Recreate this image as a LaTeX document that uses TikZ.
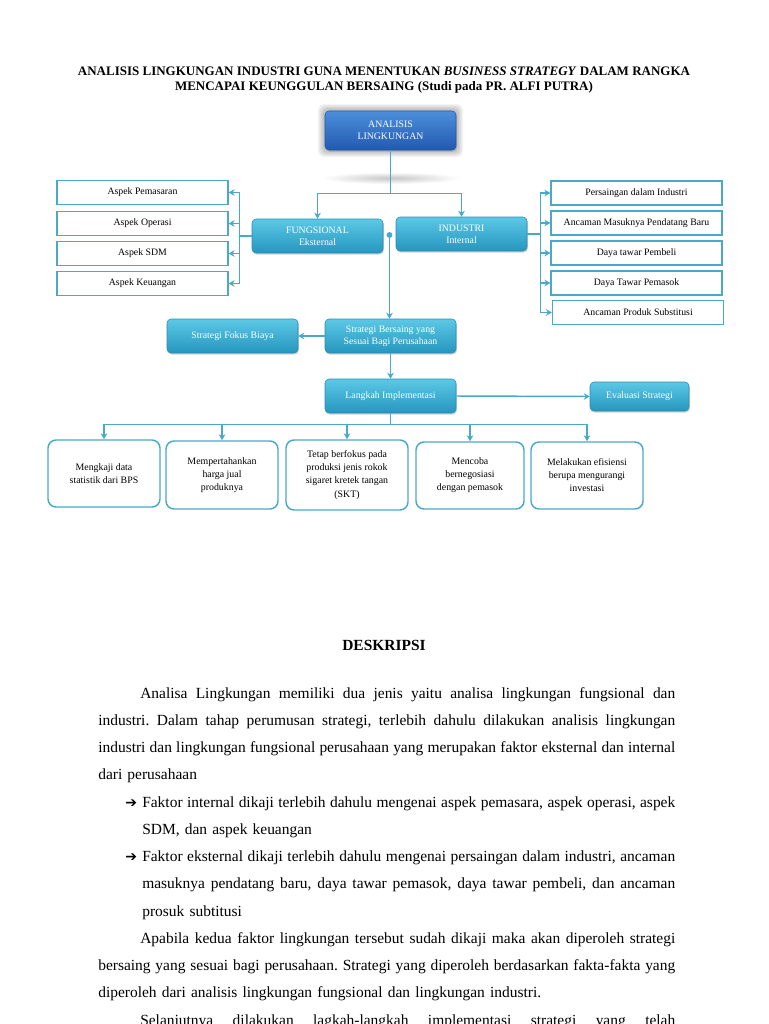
\documentclass[tikz,border=0pt]{standalone}
\usepackage{fontspec}
\setmainfont{Liberation Serif}
\newfontfamily\symfont{DejaVu Sans}
\usetikzlibrary{arrows.meta,shadows,calc}

\definecolor{linkc}{HTML}{4AA9C8}
\definecolor{boxtop}{HTML}{5CC8E6}
\definecolor{boxbot}{HTML}{2596BE}
\definecolor{boxedge}{HTML}{2B8DB2}
\definecolor{headtop}{HTML}{4D8FDC}
\definecolor{headbot}{HTML}{2259B0}

% one justified line of the description
\newcommand{\fillline}[2][432.75pt]{{\spaceskip=0pt\xspaceskip=0pt\makebox[#1][s]{#2}}}
\newcommand{\bulletarrow}{\makebox[12.75pt][l]{\symfont\bfseries\fontsize{10.5}{10.5}\selectfont ➔}}

\begin{document}
\begin{tikzpicture}[x=0.75pt, y=-0.75pt, > = {Stealth[length=4.5pt,width=5pt]},
    link/.style = {draw=linkc, line width=1.1pt},
    bluebox/.style = {rounded corners=3pt, draw=boxedge, line width=0.4pt, top color=boxtop, bottom color=boxbot,
        text=white, align=center, inner sep=1pt, minimum width=98.25pt, minimum height=25.5pt,
        font=\fontsize{7.35}{8.8}\selectfont, drop shadow={shadow xshift=0.6pt, shadow yshift=-1.2pt, opacity=0.35}},
    headbox/.style = {bluebox, draw=headbot, top color=headtop, bottom color=headbot, minimum height=29.25pt},
    aspbox/.style = {draw=linkc, line width=0.9pt, fill=white, inner sep=1pt, minimum width=128.25pt, minimum height=18pt,
        font=\fontsize{7.35}{8.8}\selectfont},
    stepbox/.style = {draw=linkc, line width=1.1pt, fill=white, rounded corners=6pt, align=center, inner sep=1pt,
        minimum height=50.25pt, font=\fontsize{7.4}{9.8}\selectfont},
    body/.style = {text width=432.75pt, align=left, inner sep=0pt, font=\fontsize{11.6}{20.45}\selectfont\frenchspacing}]

    \useasboundingbox (0,0) rectangle (768,1024);

    % title
    \node[align=center, font=\fontsize{9.75}{11.25}\selectfont\bfseries] (ttl) at (384,80)
        {ANALISIS LINGKUNGAN INDUSTRI GUNA MENENTUKAN \textit{BUSINESS STRATEGY} DALAM RANGKA\\
         MENCAPAI KEUNGGULAN BERSAING (Studi pada PR. ALFI PUTRA)};

    % glow and reflection of the top box
    \foreach \g in {1,...,7}
        \fill[black, opacity=0.045, rounded corners=4pt] (325-\g,111-\g) rectangle (456+\g,150+\g);
    \shade[inner color=black!22, outer color=white] (391,178) ellipse (52pt and 4.5pt);

    % boxes
    \node[headbox] (ana) at (390.5,130.5) {ANALISIS\\LINGKUNGAN};
    \node[bluebox] (fung) at (317.5,236) {FUNGSIONAL\\Eksternal};
    \node[bluebox] (ind) at (461.5,234) {INDUSTRI\\Internal};

    \node[aspbox] (a1) at (142.5,192.5) {Aspek Pemasaran};
    \node[aspbox] (a2) at (142.5,223.5) {Aspek Operasi};
    \node[aspbox] (a3) at (142.5,253.5) {Aspek SDM};
    \node[aspbox] (a4) at (142.5,283.5) {Aspek Keuangan};

    \node[aspbox] (b1) at (636.5,193) {Persaingan dalam Industri};
    \node[aspbox] (b2) at (636.5,223) {Ancaman Masuknya Pendatang Baru};
    \node[aspbox] (b3) at (636.5,253) {Daya tawar Pembeli};
    \node[aspbox] (b4) at (636.5,283) {Daya Tawar Pemasok};
    \node[aspbox] (b5) at (638,312.5) {Ancaman Produk Substitusi};

    \node[bluebox] (sb) at (390.5,336) {Strategi Bersaing yang\\Sesuai Bagi Perusahaan};
    \node[bluebox] (sf) at (232.5,336) {Strategi Fokus Biaya};
    \node[bluebox] (li) at (390.5,396) {Langkah Implementasi};
    \node[bluebox, minimum width=74.25pt, minimum height=21.75pt] (ev) at (639.5,396.5) {Evaluasi Strategi};

    \node[stepbox, minimum width=84pt] (s1) at (104,473.5) {Mengkaji data\\statistik dari BPS};
    \node[stepbox, minimum width=84pt, minimum height=51pt] (s2) at (222,475) {Mempertahankan\\harga jual\\produknya};
    \node[stepbox, minimum width=91.5pt, minimum height=52.5pt] (s3) at (347,475) {Tetap berfokus pada\\produksi jenis rokok\\sigaret kretek tangan\\(SKT)};
    \node[stepbox, minimum width=81pt] (s4) at (470,475.5) {Mencoba\\bernegosiasi\\dengan pemasok};
    \node[stepbox, minimum width=84pt] (s5) at (587,475.5) {Melakukan efisiensi\\berupa mengurangi\\investasi};

    % connectors
    \draw[link] (ana.south) -- ++(0,43) coordinate (top);
    \draw[link, ->] (top) -| (fung.north);
    \draw[link, ->] (top) -| (ind.north);

    \foreach \n in {a1,a2,a3,a4}
        \draw[link, ->] (fung.west) -- ++(-12,0) |- (\n.east);
    \foreach \n in {b1,b2,b3,b4,b5}
        \draw[link, ->] (ind.east) -- ++(13,0) |- (\n.west);

    \coordinate (mid) at ($(fung.east)!0.5!(ind.west)$);
    \fill[linkc] (mid) circle (2.2pt);
    \draw[link, ->] (mid) -- (mid |- sb.north);

    \draw[link, ->] (sb.west) -- (sf.east);
    \draw[link, ->] (sb.south) -- (li.north);
    \draw[link, ->] (li.east) -- (ev.west);

    \draw[link] (li.south) -- ++(0,11) coordinate (bot);
    \foreach \n in {s1,s2,s3,s4,s5}
        \draw[link, ->] (bot) -| (\n.north);

    % description
    \node[font=\fontsize{11.6}{14}\selectfont\bfseries] (head) at (384,645) {DESKRIPSI};
    \node[body, anchor=base west] (desc) at (98,698) {%
        \fillline{\hspace*{31.5pt}Analisa Lingkungan memiliki dua jenis yaitu analisa lingkungan fungsional dan}\\
        \fillline{industri. Dalam tahap perumusan strategi, terlebih dahulu dilakukan analisis lingkungan}\\
        \fillline{industri dan lingkungan fungsional perusahaan yang merupakan faktor eksternal dan internal}\\
        dari perusahaan\\
        \hspace*{20.25pt}\bulletarrow\fillline[399.75pt]{Faktor internal dikaji terlebih dahulu mengenai aspek pemasara, aspek operasi, aspek}\\
        \hspace*{33pt}SDM, dan aspek keuangan\\
        \hspace*{20.25pt}\bulletarrow\fillline[399.75pt]{Faktor eksternal dikaji terlebih dahulu mengenai persaingan dalam industri, ancaman}\\
        \hspace*{33pt}\fillline[399.75pt]{masuknya pendatang baru, daya tawar pemasok, daya tawar pembeli, dan ancaman}\\
        \hspace*{33pt}prosuk subtitusi\\
        \fillline{\hspace*{31.5pt}Apabila kedua faktor lingkungan tersebut sudah dikaji maka akan diperoleh strategi}\\
        \fillline{bersaing yang sesuai bagi perusahaan. Strategi yang diperoleh berdasarkan fakta-fakta yang}\\
        diperoleh dari analisis lingkungan fungsional dan lingkungan industri.\\
        \fillline{\hspace*{31.5pt}Selanjutnya dilakukan lagkah-langkah implementasi strategi yang telah}};

\end{tikzpicture}
\end{document}
